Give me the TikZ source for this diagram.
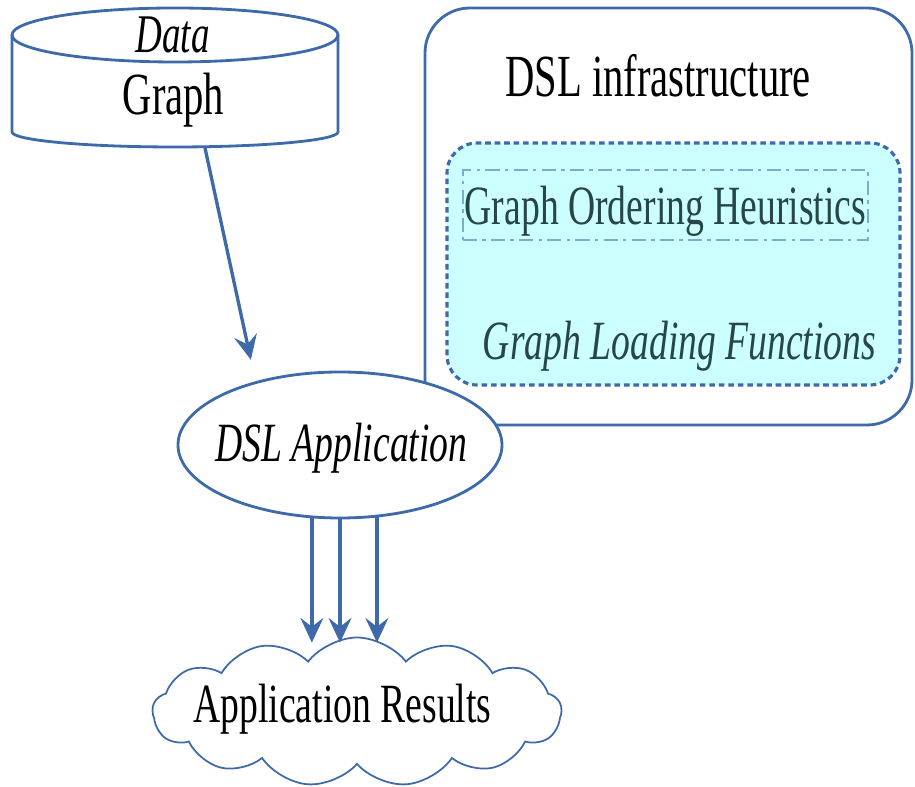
\documentclass[tikz,border=0pt]{standalone}
\usepackage{fontspec}
\setmainfont[FakeStretch=0.68]{Liberation Serif}
\usetikzlibrary{positioning,arrows.meta,calc,shapes.geometric,shapes.symbols}
\definecolor{LineBlue}{RGB}{62,106,170}
\definecolor{PaleCyan}{RGB}{204,255,255}
\definecolor{SoftBlue}{RGB}{125,172,210}
\definecolor{SlateText}{RGB}{38,70,72}
\tikzset{
  flow/.style={-{Stealth[length=14pt,width=13pt,inset=5pt]},line width=1.9pt,draw=LineBlue},
  outline/.style={line width=1.6pt,draw=LineBlue},
  bigtext/.style={font=\fontsize{31.5}{36}\selectfont},
  bigitalic/.style={font=\fontsize{31.5}{36}\selectfont\itshape},
  appnode/.style={ellipse,outline,fill=white,inner sep=0pt,
    minimum width=6.48cm,minimum height=2.92cm},
  resultcloud/.style={cloud,cloud puffs=13,cloud puff arc=105,cloud ignores aspect,outline,line width=1pt,
    inner sep=0pt,minimum width=8.18cm,minimum height=2.98cm},
  dotbox/.style={outline,line width=1.8pt,fill=PaleCyan,dash pattern=on 3.2pt off 2.2pt,rounded corners=0.6cm},
  heurbox/.style={draw=SoftBlue,line width=0.9pt,dash pattern=on 8pt off 3pt on 2pt off 3pt,
    inner sep=0pt,minimum width=8.1cm,minimum height=1.4cm,
    text height=1.04cm,text depth=0.24cm,bigtext,text=SlateText}
}

\begin{document}
\begin{tikzpicture}
  \useasboundingbox (0,0) rectangle (18.3,15.74);

  % data store
  \draw[outline] (0.24,15.04) -- (0.24,13.1)
    arc[start angle=180,end angle=360,x radius=3.26cm,y radius=0.3cm] -- (6.76,15.04);
  \draw[outline] (3.5,15.04) ellipse[x radius=3.26cm,y radius=0.54cm];
  \node[anchor=base,font=\fontsize{31}{36}\selectfont\itshape] (data) at (3.45,14.68) {Data};
  \node[anchor=base,font=\fontsize{34}{40}\selectfont] (graph) at (3.47,13.44) {Graph};
  \coordinate (dbout) at (4.1,12.78);

  % infrastructure
  \draw[outline,rounded corners=0.9cm] (8.5,7.24) rectangle (18.24,15.58);
  \node[anchor=base,font=\fontsize{34}{40}\selectfont] (infra) at (13.16,13.8) {DSL infrastructure};
  \draw[dotbox] (8.94,8.04) rectangle (18.0,12.88);
  \node[heurbox] (order) at (13.31,11.64) {Graph Ordering Heuristics};
  \node[anchor=base,bigitalic,text=SlateText] (loading) at (13.59,8.54) {Graph Loading Functions};

  % application and results
  \node[appnode] (app) at (6.8,6.84) {};
  \node[anchor=base,bigitalic] (applabel) at (6.83,6.5) {DSL Application};
  \node[resultcloud] (res) at (7.14,1.5) {};
  \node[anchor=base,bigtext] (reslabel) at (6.85,1.28) {Application Results};

  \draw[flow,shorten >=0.44cm] (dbout) -- (app.143);
  \draw[flow,shorten >=-0.12cm] (app.249) -- (app.249 |- res.north);
  \draw[flow,shorten >=-0.12cm] (app.south) -- (app.south |- res.north);
  \draw[flow,shorten >=-0.12cm] (app.297) -- (app.297 |- res.north);
\end{tikzpicture}
\end{document}
